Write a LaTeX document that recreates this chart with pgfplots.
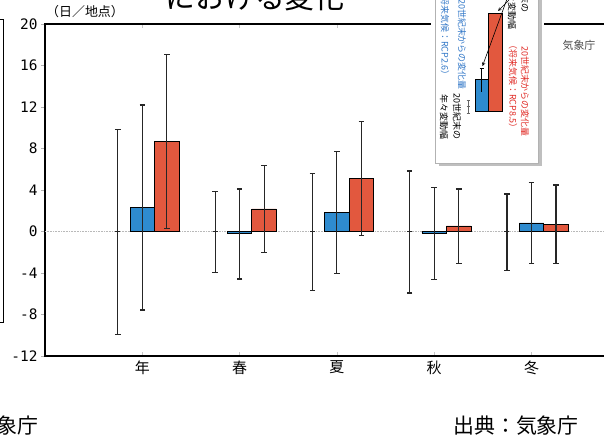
\documentclass[border=0pt]{standalone}
\usepackage{fontspec}
\usepackage{pgfplots}
\pgfplotsset{compat=1.18}
\newfontfamily\cjk{Noto Sans CJK JP}
\newfontfamily\mono{DejaVu Sans Mono}
\definecolor{cblue}{RGB}{46,139,207}
\definecolor{cred}{RGB}{226,88,62}
\definecolor{tblue}{RGB}{50,120,200}
\definecolor{tred}{RGB}{225,45,40}
\begin{document}
\begin{tikzpicture}[x=1bp,y=1bp]
\begin{axis}[
  at={(45bp,83bp)}, anchor=south west,
  scale only axis, width=603.26bp, height=332bp,
  xmin=-1, xmax=5.2, ymin=-12, ymax=20,
  xtick={0,1,2,3,4}, xticklabels={年,春,夏,秋,冬},
  ytick={-12,-8,-4,0,4,8,12,16,20}, yticklabels={-12,-8,-4,0,4,8,12,16,20},
  tick align=inside, major tick length=4bp,
  xtick style={draw=gray!45, line width=0.5pt},
  ytick style={draw=gray!60, line width=0.5pt, xshift=-4bp},
  yticklabel style={font=\mono\fontsize{14.5}{16}\selectfont, xshift=-4bp},
  xticklabel style={font=\cjk\fontsize{15}{17}\selectfont, yshift=-1.5bp},
  axis line style={line width=1.1pt},
  error bars/error bar style={black!85, line width=1.1pt},
  error bars/error mark options={rotate=90, black!85, mark size=2.8bp, line width=1.1pt},
]
\addplot[gray!55, line width=0.6pt, densely dotted, forget plot] coordinates {(-1,0) (5.2,0)};
% 20th-century year-to-year variability
\addplot[draw=none, mark=-, mark size=2.5bp, mark options={black!85, line width=1.1pt},
  error bars/.cd, y dir=both, y explicit] coordinates {
  (-0.252,0) += (0,9.85) -= (0,9.90)
  (0.748,0)  += (0,3.84) -= (0,3.93)
  (1.748,0)  += (0,5.60) -= (0,5.67)
  (2.748,0)  += (0,5.83) -= (0,5.93)
  (3.748,0)  += (0,3.61) -= (0,3.78)
};
% RCP2.6
\addplot[ybar, bar width=24.5bp, bar shift=0pt, fill=cblue, draw=black, line width=0.9pt,
  error bars/.cd, y dir=both, y explicit] coordinates {
  (0,2.33)  += (0,9.86) -= (0,9.90)
  (1,-0.17) += (0,4.27) -= (0,4.41)
  (2,1.81)  += (0,5.89) -= (0,5.88)
  (3,-0.15) += (0,4.37) -= (0,4.47)
  (4,0.82)  += (0,3.92) -= (0,3.89)
};
% RCP8.5
\addplot[ybar, bar width=24.5bp, bar shift=0pt, fill=cred, draw=black, line width=0.9pt,
  error bars/.cd, y dir=both, y explicit] coordinates {
  (0.252,8.66) += (0,8.42) -= (0,8.39)
  (1.252,2.17) += (0,4.18) -= (0,4.21)
  (2.252,5.12) += (0,5.48) -= (0,5.52)
  (3.252,0.53) += (0,3.57) -= (0,3.60)
  (4.252,0.69) += (0,3.79) -= (0,3.76)
};
\end{axis}
% adjacent panel edge (cropped)
\draw[line width=1pt] (0,419) -- (3,419) -- (3,116) -- (0,116);
% title fragment and unit
\node[font=\cjk\fontsize{30}{32}\selectfont, anchor=base] at (255,430.5) {における変化};
\node[font=\cjk\fontsize{13}{15}\selectfont] at (85,427.5) {（日／地点）};
\node[font=\cjk\fontsize{11}{13}\selectfont, text=black!70] at (579,394) {気象庁};
% inset legend
\fill[white] (431,273) rectangle (544,445);
\fill[gray!50] (439,272.5) rectangle (541.5,445);
\filldraw[fill=white, draw=gray!60, line width=0.8pt] (435.5,276) rectangle (538,445);
\draw[black, line width=0.6pt, fill=cblue] (475.3,328) rectangle (488,360);
\draw[black, line width=0.6pt, fill=cred] (488,328) rectangle (502,426);
\draw[black, line width=0.6pt] (481.7,347) -- (481.7,371) (479.7,371) -- (483.7,371);
\draw[gray!80!black, line width=0.6pt] (468,326) -- (468,339) (466.5,326) -- (469.5,326) (466.5,339) -- (469.5,339) (466.5,332.5) -- (469.5,332.5);
\draw[black, line width=0.6pt, -stealth] (507,440) -- (482.5,373);
\draw[black, line width=0.6pt, -stealth] (509,439) -- (498,428);
\begin{scope}[every node/.style={font=\cjk\fontsize{9}{10}\selectfont, rotate=-90, anchor=east, inner sep=0pt}]
\node[text=tblue] at (462,349) {20世紀末からの変化量};
\node[text=tblue] at (445,359) {（将来気候：RCP2.6）};
\node[text=black] at (457,299) {20世紀末の};
\node[text=black] at (444,299) {年々変動幅};
\node[text=black] at (525,426) {20世紀末の};
\node[text=black] at (512,409) {年々変動幅};
\node[text=tred] at (525,302) {20世紀末からの変化量};
\node[text=tred] at (513,306) {（将来気候：RCP8.5）};
\end{scope}
% sources
\node[font=\cjk\fontsize{21}{23}\selectfont, anchor=east, inner sep=0pt] at (39,13.5) {気象庁};
\node[font=\cjk\fontsize{21}{23}\selectfont] at (516,13.5) {出典：気象庁};
\pgfresetboundingbox
\useasboundingbox (0,0) rectangle (604,439);
\end{tikzpicture}
\end{document}
